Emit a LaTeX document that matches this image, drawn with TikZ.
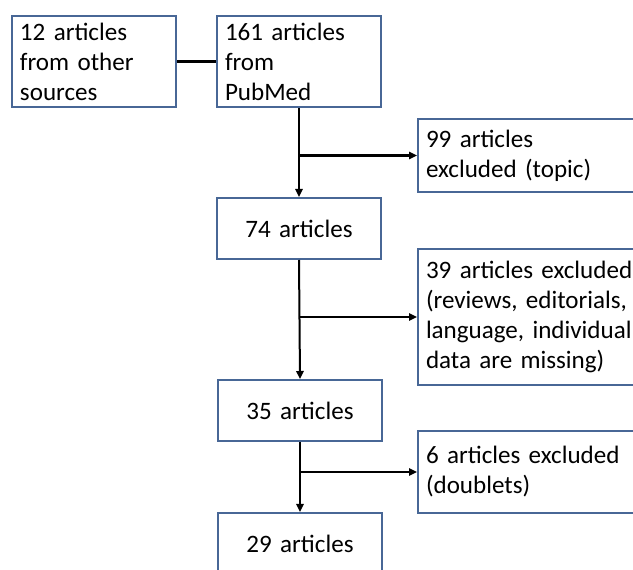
\documentclass[tikz,border=0pt]{standalone}
\usepackage{fontspec}
\setmainfont{Carlito}
\usetikzlibrary{arrows.meta}
\definecolor{bordeazul}{RGB}{72,103,150}
\tikzset{
  caja/.style={draw=bordeazul, line width=1.5pt, anchor=north west, inner xsep=6pt, inner ysep=0pt,
    font=\fontsize{18.8}{22.5}\selectfont},
  cajaizq/.style={caja, minimum width=123pt, text width=111pt, align=left},
  cajacentro/.style={caja, minimum width=123pt, text width=111pt, align=center, minimum height=45.75pt},
  cajader/.style={caja, minimum width=180pt, text width=168pt, align=left},
  flecha/.style={line width=2.2pt, -{Triangle[length=6pt,width=5.5pt]}},
  flechafina/.style={line width=1.5pt, -{Triangle[length=6pt,width=5.5pt]}}
}
\begin{document}
\begin{tikzpicture}[x=0.75pt, y=-0.75pt]
            \useasboundingbox (0,0) rectangle (633,570);
            \clip (0,0) rectangle (633,570);

            % Fuentes
            \node[cajaizq, minimum height=68.25pt] (otras) at (11,15) {12 articles\\from other\\sources};
            \node[cajaizq, minimum height=68.25pt] (pubmed) at (216,15) {161 articles\\from\\PubMed};
            \draw[line width=1.8pt] (otras.east) -- (pubmed.west);

            % Cajas centrales
            \node[cajacentro] (a74) at (216,197) {74 articles};
            \node[cajacentro] (a35) at (217,379) {35 articles};
            \node[cajacentro] (a29) at (217,512) {29 articles};

            % Excluidos
            \node[cajader, minimum height=54.75pt] (topic) at (417,118) {99 articles\\excluded (topic)};
            \node[cajader, minimum height=102pt] (reviews) at (417,248) {39 articles excluded\\(reviews, editorials,\\language, individual\\data are missing)};
            \node[cajader, minimum height=61.5pt] (doublets) at (417,430) {6 articles excluded\\(doublets)};

            % Flechas
            \draw[flecha] (pubmed.south) -- (a74.north);
            \draw[flecha, line width=2pt] (pubmed.south |- topic.west) -- (topic.west);
            \draw[flechafina] (a74.south) -- (a35.north);
            \draw[flecha, line width=2pt] (a74.south |- reviews.west) -- (reviews.west);
            \draw[flecha] (a35.south) -- (a29.north);
            \draw[flecha, line width=2pt] (a35.south |- doublets.west) -- (doublets.west);
        \end{tikzpicture}
\end{document}
